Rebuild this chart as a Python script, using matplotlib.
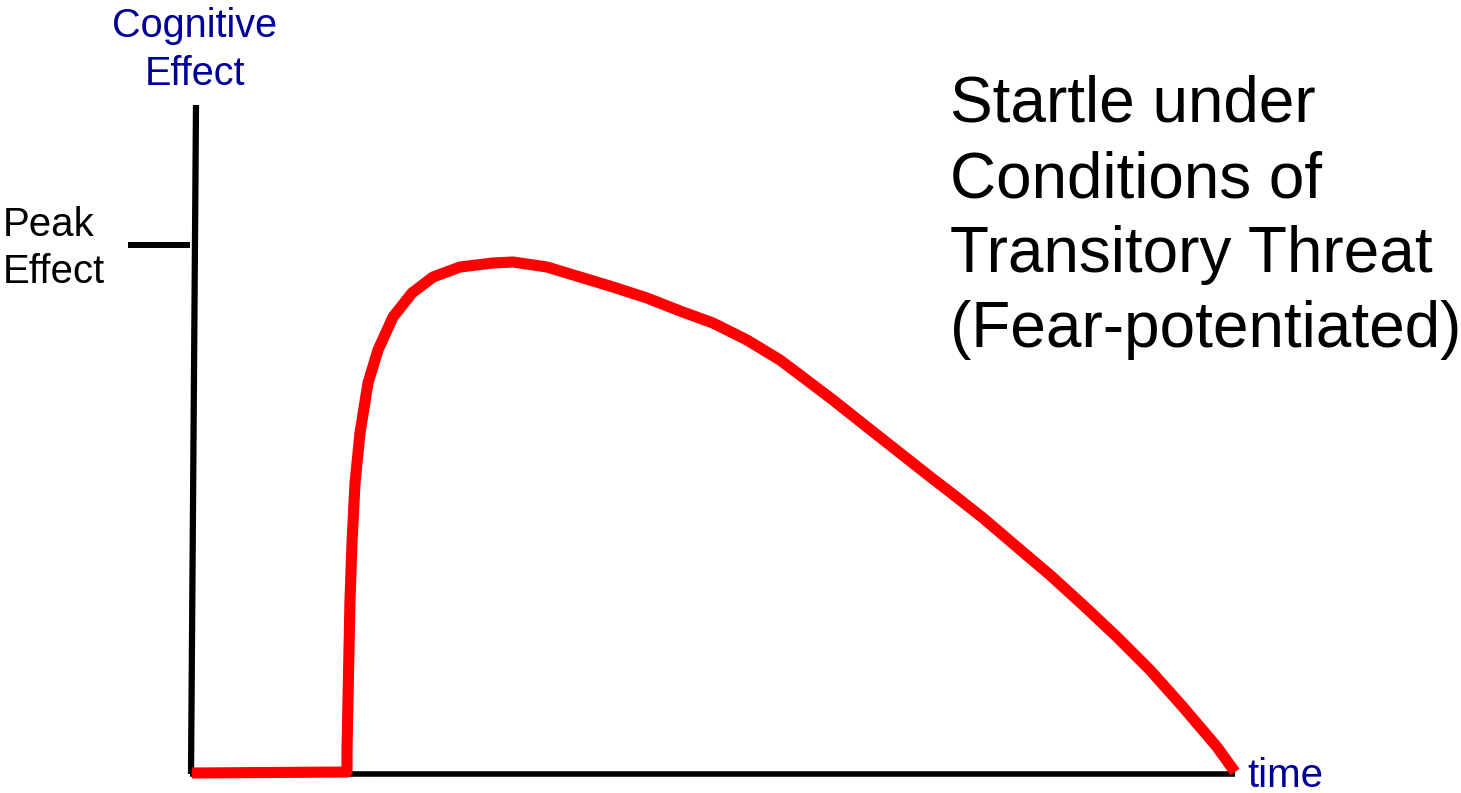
import matplotlib
matplotlib.use("Agg")
import matplotlib.pyplot as plt

# Schematic curve: time vs cognitive effect (units arbitrary)
time = [2, 157, 157, 158, 159, 160, 162, 165, 170, 178, 188, 203, 222, 243,
        270, 303, 323, 357, 390, 423, 457, 490, 523, 557, 590, 610, 643, 677,
        710, 743, 760, 793, 827, 860, 893, 927, 960, 993, 1027, 1045]
effect = [1, 2, 24, 74, 124, 174, 231, 291, 341, 391, 424, 457, 481, 497,
          507, 511, 512, 507, 497, 487, 476, 463, 451, 434, 414, 399, 374, 347,
          321, 295, 282, 256, 227, 199, 169, 137, 104, 67, 27, 2]

peak_level = 529
title_lines = ["Startle under", "Conditions of", "Transitory Threat", "(Fear-potentiated)"]
ylabel_lines = ["Cognitive", "Effect"]
peak_lines = ["Peak", "Effect"]
xlabel = "time"

BLUE = "#000099"
FONT = "Liberation Sans"

fig = plt.figure(figsize=(14.61, 7.93), dpi=100)
ax = fig.add_axes([0, 0, 1, 1])
ax.set_xlim(-190, 1271)
ax.set_ylim(-19, 774)
ax.axis("off")

# axes lines
ax.plot([1, 6], [0, 669], color="black", lw=4.5, solid_capstyle="butt")
ax.plot([0, 1045], [0, 0], color="black", lw=4, solid_capstyle="butt")
# peak tick
ax.plot([-62, 0], [peak_level, peak_level], color="black", lw=4.3, solid_capstyle="butt")

# red curve
ax.plot(time, effect, color="#FF0000", lw=8, solid_joinstyle="round", solid_capstyle="butt")

# texts
for i, s in enumerate(ylabel_lines):
    ax.text(5, 774 - (37 + 48 * i), s, color=BLUE, fontsize=28.5, family=FONT,
            ha="center", va="baseline")
for i, s in enumerate(peak_lines):
    ax.text(-187, 774 - (236 + 47 * i), s, color="black", fontsize=29, family=FONT,
            ha="left", va="baseline")
ax.text(1057, 774 - 787, xlabel, color=BLUE, fontsize=29, family=FONT,
        ha="left", va="baseline")
for i, s in enumerate(title_lines):
    ax.text(760, 774 - (122 + 75 * i), s, color="black", fontsize=46, family=FONT,
            ha="left", va="baseline")

fig.savefig("out.png", dpi=100)
